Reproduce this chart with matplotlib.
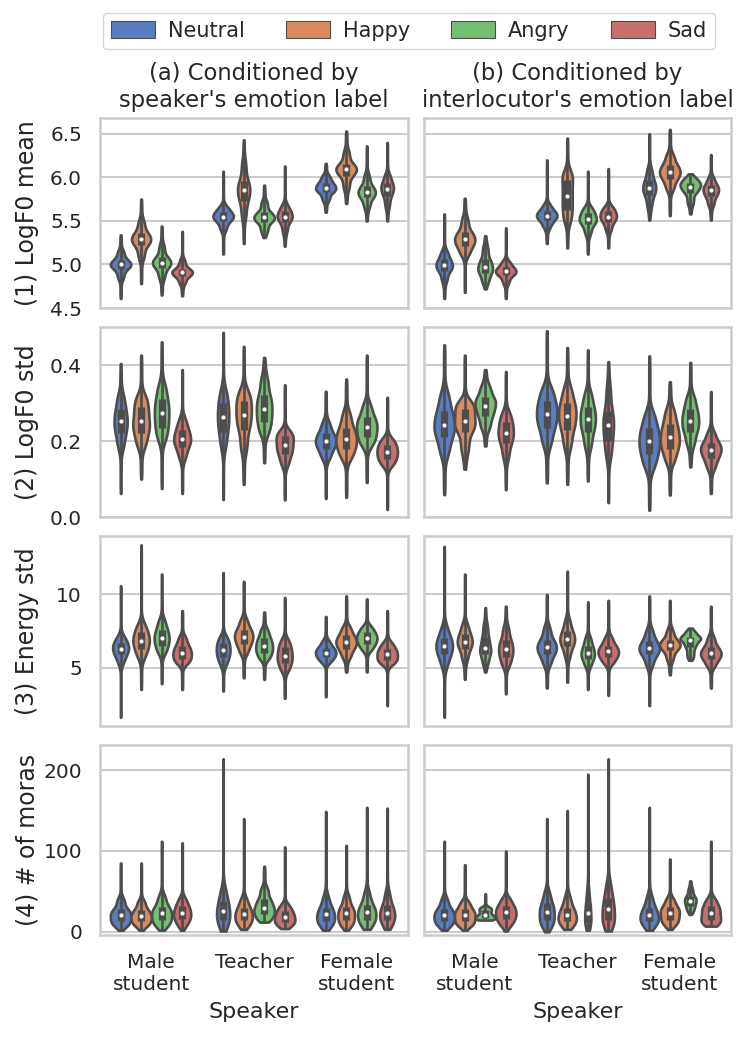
import numpy as np
import pandas as pd
import matplotlib
matplotlib.use("Agg")
import matplotlib.pyplot as plt
from matplotlib.patches import Patch
import seaborn as sns

speakers = ["Male\nstudent", "Teacher", "Female\nstudent"]
emotions = ["Neutral", "Happy", "Angry", "Sad"]
row_labels = ["(1) LogF0 mean", "(2) LogF0 std", "(3) Energy std", "(4) # of moras"]
col_titles = ["(a) Conditioned by\nspeaker's emotion label",
              "(b) Conditioned by\ninterlocutor's emotion label"]

# each row: [min, p5, q1, median, q3, p95, max]; order = speaker, then emotion
f0_mean_spk = [
    [4.61, 4.82, 4.95, 5.00, 5.05, 5.17, 5.34], [4.78, 5.05, 5.22, 5.29, 5.36, 5.52, 5.75],
    [4.65, 4.82, 4.96, 5.02, 5.08, 5.24, 5.44], [4.64, 4.77, 4.87, 4.91, 4.95, 5.07, 5.38],
    [5.12, 5.38, 5.50, 5.55, 5.60, 5.68, 6.07], [5.24, 5.51, 5.73, 5.85, 5.96, 6.20, 6.43],
    [5.31, 5.37, 5.49, 5.54, 5.60, 5.74, 5.91], [5.21, 5.35, 5.49, 5.55, 5.61, 5.70, 6.13],
    [5.60, 5.72, 5.83, 5.88, 5.94, 6.03, 6.16], [5.70, 5.85, 6.02, 6.09, 6.15, 6.32, 6.53],
    [5.50, 5.64, 5.77, 5.83, 5.90, 6.05, 6.36], [5.50, 5.64, 5.79, 5.87, 5.94, 6.05, 6.40],
]
f0_mean_int = [
    [4.61, 4.79, 4.93, 4.99, 5.06, 5.17, 5.58], [4.68, 5.09, 5.21, 5.29, 5.37, 5.55, 5.76],
    [4.72, 4.79, 4.90, 4.97, 5.06, 5.22, 5.33], [4.61, 4.77, 4.88, 4.92, 4.97, 5.05, 5.42],
    [5.24, 5.41, 5.51, 5.56, 5.61, 5.70, 6.20], [5.19, 5.47, 5.62, 5.79, 5.97, 6.08, 6.45],
    [5.12, 5.33, 5.46, 5.52, 5.59, 5.67, 6.07], [5.19, 5.37, 5.49, 5.55, 5.61, 5.68, 6.10],
    [5.51, 5.64, 5.80, 5.88, 5.97, 6.12, 6.50], [5.56, 5.84, 5.98, 6.06, 6.14, 6.28, 6.55],
    [5.58, 5.68, 5.82, 5.89, 5.94, 6.00, 6.04], [5.51, 5.66, 5.78, 5.85, 5.91, 6.01, 6.26],
]
f0_std_spk = [
    [0.062, 0.176, 0.220, 0.252, 0.285, 0.328, 0.404],
    [0.100, 0.180, 0.220, 0.252, 0.290, 0.324, 0.426],
    [0.075, 0.197, 0.235, 0.273, 0.310, 0.355, 0.461],
    [0.062, 0.149, 0.185, 0.206, 0.230, 0.263, 0.388],
    [0.046, 0.176, 0.225, 0.263, 0.300, 0.341, 0.486],
    [0.086, 0.167, 0.230, 0.269, 0.305, 0.337, 0.449],
    [0.143, 0.215, 0.250, 0.285, 0.320, 0.372, 0.420],
    [0.045, 0.132, 0.165, 0.189, 0.213, 0.228, 0.348],
    [0.049, 0.149, 0.180, 0.200, 0.220, 0.254, 0.331],
    [0.052, 0.149, 0.180, 0.206, 0.235, 0.280, 0.363],
    [0.091, 0.184, 0.210, 0.237, 0.262, 0.302, 0.426],
    [0.020, 0.132, 0.152, 0.171, 0.190, 0.210, 0.315],
]
f0_std_int = [
    [0.059, 0.158, 0.210, 0.243, 0.280, 0.333, 0.453],
    [0.126, 0.167, 0.225, 0.252, 0.285, 0.307, 0.426],
    [0.187, 0.228, 0.265, 0.293, 0.315, 0.350, 0.388],
    [0.072, 0.149, 0.195, 0.222, 0.250, 0.280, 0.383],
    [0.090, 0.184, 0.235, 0.270, 0.305, 0.346, 0.490],
    [0.086, 0.176, 0.230, 0.267, 0.300, 0.346, 0.446],
    [0.095, 0.176, 0.225, 0.258, 0.290, 0.333, 0.440],
    [0.038, 0.149, 0.200, 0.242, 0.280, 0.350, 0.409],
    [0.018, 0.123, 0.165, 0.200, 0.235, 0.280, 0.424],
    [0.058, 0.141, 0.180, 0.210, 0.245, 0.289, 0.356],
    [0.132, 0.184, 0.225, 0.254, 0.285, 0.324, 0.407],
    [0.062, 0.123, 0.155, 0.177, 0.195, 0.228, 0.330],
]
energy_std_spk = [
    [1.6, 5.2, 5.9, 6.30, 6.7, 7.2, 10.6], [3.5, 5.6, 6.3, 6.85, 7.4, 8.1, 13.4],
    [3.9, 5.9, 6.5, 7.05, 7.6, 8.4, 11.4], [3.5, 5.2, 5.6, 6.03, 6.5, 7.2, 8.9],
    [3.4, 5.1, 5.7, 6.19, 6.7, 7.2, 11.5], [4.3, 5.9, 6.6, 7.12, 7.6, 8.4, 10.9],
    [4.2, 5.5, 6.0, 6.48, 7.0, 7.7, 8.8], [2.9, 4.7, 5.3, 5.82, 6.4, 7.0, 9.8],
    [3.0, 5.3, 5.7, 6.03, 6.35, 6.9, 8.5], [4.7, 5.6, 6.3, 6.74, 7.2, 7.9, 9.9],
    [4.7, 6.1, 6.6, 7.00, 7.4, 7.9, 9.7], [2.4, 5.2, 5.5, 5.91, 6.3, 6.8, 8.9],
]
energy_std_int = [
    [1.6, 5.0, 5.9, 6.46, 7.0, 7.9, 13.3], [4.2, 5.4, 6.3, 6.78, 7.3, 8.1, 11.4],
    [4.7, 5.2, 5.9, 6.37, 7.1, 8.1, 9.1], [3.2, 5.0, 5.7, 6.28, 6.9, 7.9, 9.2],
    [3.6, 5.1, 5.9, 6.39, 6.9, 7.9, 10.0], [4.0, 5.6, 6.5, 6.96, 7.5, 8.4, 11.6],
    [3.5, 5.0, 5.6, 6.00, 6.5, 7.2, 9.5], [3.1, 5.2, 5.7, 6.10, 6.5, 7.2, 9.6],
    [2.4, 5.0, 5.9, 6.32, 6.8, 7.7, 9.9], [4.5, 5.4, 6.2, 6.55, 6.9, 7.7, 9.6],
    [5.5, 5.7, 6.4, 6.89, 7.1, 7.5, 7.7], [3.6, 5.0, 5.6, 5.98, 6.4, 7.2, 9.2],
]
moras_spk = [
    [2, 7, 13, 20.7, 28, 43, 85], [2, 7, 13, 19.8, 27, 40, 85],
    [2, 7, 14, 22.7, 31, 47, 112], [2, 8, 16, 23.5, 32, 43, 110],
    [1, 6, 15, 26.0, 38, 56, 214], [3, 7, 14, 21.5, 30, 43, 140],
    [12, 14, 22, 29.8, 40, 56, 81], [4, 7, 12, 18.6, 26, 35, 105],
    [2, 7, 13, 21.5, 30, 47, 149], [2, 7, 14, 22.7, 31, 47, 107],
    [3, 7, 15, 24.0, 33, 52, 154], [3, 7, 15, 23.5, 33, 52, 153],
]
moras_int = [
    [2, 7, 13, 20.7, 28, 43, 112], [2, 7, 13, 20.7, 28, 39, 83],
    [14.5, 15, 17, 20.7, 27, 31, 47], [1, 8, 16, 24.0, 32, 43, 100],
    [0, 6, 14, 24.8, 35, 52, 140], [3, 7, 13, 20.7, 30, 47, 150],
    [2, 6, 12, 23.5, 36, 56, 195], [1, 6, 14, 28.0, 42, 64, 214],
    [2, 7, 13, 20.7, 30, 47, 154], [3, 8, 15, 23.5, 31, 43, 90],
    [21.5, 25, 32, 38.4, 44, 55, 63], [7, 9, 14, 23.5, 32, 43, 112],
]

panels = [[f0_mean_spk, f0_mean_int], [f0_std_spk, f0_std_int],
          [energy_std_spk, energy_std_int], [moras_spk, moras_int]]
ylims = [(4.5, 6.68), (0.0, 0.50), (1.0, 14.0), (-4, 231)]
yticks = [[4.5, 5.0, 5.5, 6.0, 6.5], [0.0, 0.2, 0.4], [5, 10], [0, 100, 200]]

sns.set_theme(style="whitegrid")
plt.rcParams.update({
    "axes.edgecolor": "#cccccc",
    "axes.linewidth": 1.8,
    "grid.color": "#cccccc",
    "grid.linewidth": 1.5,
    "text.color": "#262626",
    "xtick.color": "#262626",
    "ytick.color": "#262626",
    "axes.labelcolor": "#262626",
})

gray = "#4d4d4d"
colors = [sns.desaturate(c, 0.75) for c in sns.color_palette("muted", 4)]
quant = [0, 0.05, 0.25, 0.5, 0.75, 0.95, 1]


def to_frame(stats):
    # long table built from the read-off quantiles of each violin
    rows = []
    for k, s in enumerate(stats):
        vals = np.interp(np.linspace(0, 1, 401), quant, s)
        for v in vals:
            rows.append((speakers[k // 4], emotions[k % 4], v))
    return pd.DataFrame(rows, columns=["speaker", "emotion", "value"])


fig, axes = plt.subplots(4, 2, figsize=(7.47, 10.41), dpi=100, sharey="row", sharex=True)
fig.subplots_adjust(left=0.134, right=0.979, top=0.8866, bottom=0.1018, wspace=0.052, hspace=0.1)

for r in range(4):
    for c in range(2):
        ax = axes[r, c]
        stats = panels[r][c]
        sns.violinplot(data=to_frame(stats), x="speaker", y="value", hue="emotion",
                       order=speakers, hue_order=emotions, palette=colors, saturation=1,
                       inner=None, cut=0, linewidth=1.9, linecolor=gray,
                       density_norm="area", width=0.8, legend=False, ax=ax)
        # box, whiskers and median dot
        for k, s in enumerate(stats):
            lo, p5, q1, med, q3, p95, hi = s
            iqr = q3 - q1
            x = k // 4 + (k % 4 - 1.5) * 0.2
            ax.plot([x, x], [max(lo, q1 - 1.5 * iqr), min(hi, q3 + 1.5 * iqr)],
                    color=gray, lw=1.9, solid_capstyle="butt", zorder=3)
            ax.plot([x, x], [q1, q3], color=gray, lw=5.2, solid_capstyle="butt", zorder=3)
            ax.plot(x, med, "o", color="white", ms=3.6, mec=gray, mew=0.5, zorder=4)
        ax.set_ylim(*ylims[r])
        ax.set_yticks(yticks[r])
        ax.set_xlim(-0.5, 2.5)
        ax.xaxis.grid(False)
        ax.tick_params(axis="both", length=0, labelsize=14.5, pad=13)
        for sp in ax.spines.values():
            sp.set_visible(True)
        ax.set_xlabel("")
        ax.set_ylabel(row_labels[r] if c == 0 else "", fontsize=17, labelpad=3)
        if r == 0:
            ax.set_title(col_titles[c], fontsize=16.3, pad=8)
        if r == 3:
            ax.set_xlabel("Speaker", fontsize=16, labelpad=6)

fig.align_ylabels(axes[:, 0])

handles = [Patch(facecolor=col, edgecolor=gray, linewidth=0.8) for col in colors]
fig.legend(handles, emotions, loc="center", bbox_to_anchor=(409 / 747, 1 - 31 / 1041),
           ncol=4, fontsize=15, handlelength=2.1, handleheight=0.9, handletextpad=0.6,
           columnspacing=2.0, frameon=True, edgecolor="#cccccc", fancybox=True, borderpad=0.4)

fig.savefig("out.png", dpi=100)
